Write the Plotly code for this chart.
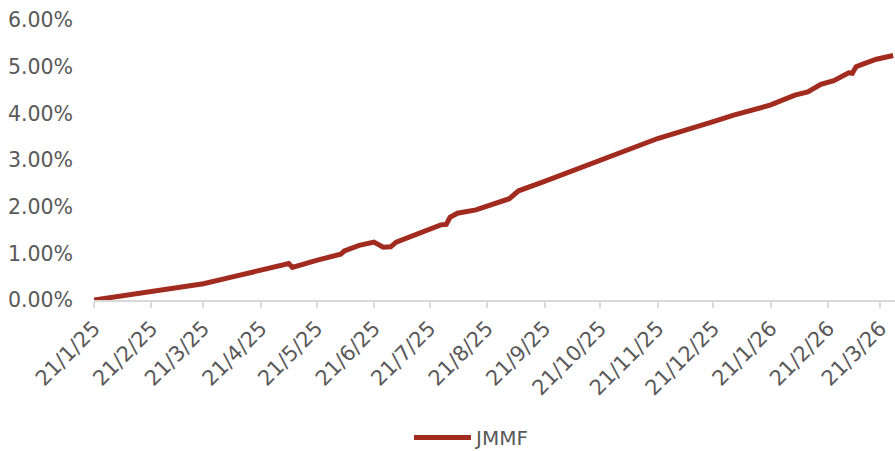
import plotly.graph_objects as go

dates = [
    "2025-01-21", "2025-02-21", "2025-03-21", "2025-04-04", "2025-04-21",
    "2025-05-06", "2025-05-08", "2025-05-12", "2025-05-21", "2025-06-03",
    "2025-06-05", "2025-06-13", "2025-06-21", "2025-06-26", "2025-06-30",
    "2025-07-03", "2025-07-21", "2025-07-27", "2025-07-30", "2025-08-01",
    "2025-08-05", "2025-08-15", "2025-09-02", "2025-09-07", "2025-09-21",
    "2025-10-21", "2025-11-21", "2025-12-21", "2026-01-01", "2026-01-21",
    "2026-02-03", "2026-02-10", "2026-02-17", "2026-02-24", "2026-03-02",
    "2026-03-04", "2026-03-06", "2026-03-08", "2026-03-12", "2026-03-19",
    "2026-03-28",
]
jmmf = [
    0.00, 0.18, 0.35, 0.48, 0.64,
    0.78, 0.70, 0.75, 0.85, 0.98,
    1.05, 1.17, 1.24, 1.13, 1.14,
    1.24, 1.53, 1.61, 1.62, 1.77,
    1.86, 1.93, 2.17, 2.34, 2.54,
    2.98, 3.46, 3.82, 3.96, 4.18,
    4.39, 4.46, 4.62, 4.70, 4.82,
    4.87, 4.86, 5.00, 5.06, 5.16,
    5.24,
]
jmmf_frac = [v / 100 for v in jmmf]

tick_dates = [
    "2025-01-21", "2025-02-21", "2025-03-21", "2025-04-21", "2025-05-21",
    "2025-06-21", "2025-07-21", "2025-08-21", "2025-09-21", "2025-10-21",
    "2025-11-21", "2025-12-21", "2026-01-21", "2026-02-21", "2026-03-21",
]
tick_labels = [
    "21/1/25", "21/2/25", "21/3/25", "21/4/25", "21/5/25",
    "21/6/25", "21/7/25", "21/8/25", "21/9/25", "21/10/25",
    "21/11/25", "21/12/25", "21/1/26", "21/2/26", "21/3/26",
]
y_ticks = [0, 0.01, 0.02, 0.03, 0.04, 0.05, 0.06]

FONT = "DejaVu Sans"
GREY = "#595959"
LINE = "#A22B1F"

fig = go.Figure()
fig.add_trace(go.Scatter(
    x=dates, y=jmmf_frac, mode="lines", name="JMMF",
    line=dict(color=LINE, width=5),
))

fig.update_layout(
    width=895, height=451,
    margin=dict(l=94, r=0, t=20, b=151, autoexpand=False),
    paper_bgcolor="white", plot_bgcolor="white",
    font=dict(family=FONT, color=GREY, size=19),
    showlegend=True,
    legend=dict(
        orientation="h", xref="container", yref="container",
        x=0.457, y=0.03, xanchor="left", yanchor="middle",
        font=dict(size=20, color=GREY), itemwidth=57,
        bgcolor="rgba(0,0,0,0)",
    ),
    xaxis=dict(
        type="date", range=["2025-01-21", "2026-03-29"],
        tickvals=tick_dates, ticktext=tick_labels, tickangle=-45,
        showgrid=False, zeroline=False,
        showline=True, linecolor="#D9D9D9", linewidth=1.5,
        ticks="outside", ticklen=6, tickcolor="#D9D9D9", tickwidth=1.5,
        tickfont=dict(size=21, color=GREY, family=FONT),
    ),
    yaxis=dict(
        range=[0, 0.06], tickvals=y_ticks, tickformat=".2%",
        showgrid=False, zeroline=False, showline=False,
        ticks="", ticklabelstandoff=20,
        tickfont=dict(size=20.5, color=GREY, family=FONT),
    ),
)

fig.write_html(
    "out.html",
    config={"displayModeBar": False},
    post_script="document.body.style.margin='0';document.body.style.overflow='hidden';",
)
